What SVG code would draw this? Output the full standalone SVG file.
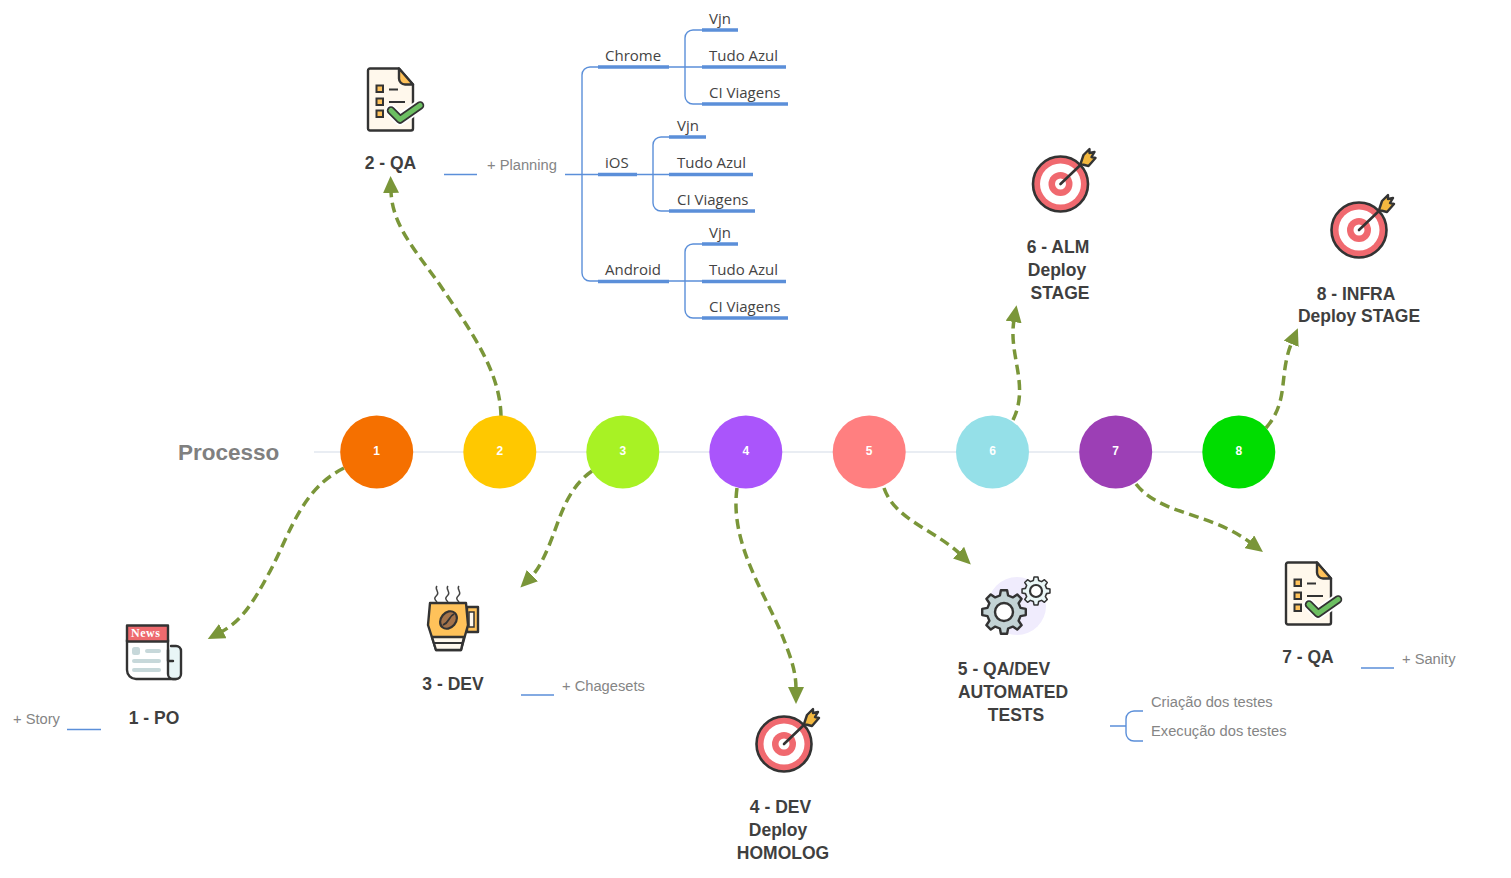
<svg xmlns="http://www.w3.org/2000/svg" width="1511" height="878" viewBox="0 0 1511 878">
<style>
text{font-family:"Liberation Sans",Arial,sans-serif}
.lbl{font-size:17.5px;font-weight:700;fill:#3f3f3f;text-anchor:middle}
.sub{font-size:14.7px;fill:#858585}
.br{font-family:"Open Sans","Liberation Sans",sans-serif;font-size:15px;fill:#444}
.num{font-size:12px;font-weight:700;fill:#fff;text-anchor:middle}
.thin{fill:none;stroke:#5b8fd9;stroke-width:1.4}
.thick{fill:none;stroke:#5b8fd9;stroke-width:3.4}
.conn{fill:none;stroke:#7a9639;stroke-width:3.5;stroke-dasharray:10 5.500;marker-end:url(#ah)}
.ol{stroke:#333;stroke-width:2.400;stroke-linejoin:round;stroke-linecap:round}
</style>
<defs>
<marker id="ah" markerUnits="userSpaceOnUse" markerWidth="18" markerHeight="16" refX="2" refY="8" orient="auto"><path d="M0 0L17 8L0 16Z" fill="#7a9639"/></marker>
<g id="doc">
<path class="ol" d="M3 0H32L46 16V60a2 2 0 0 1-2 2H3a2 2 0 0 1-2-2V2a2 2 0 0 1 2-2Z" fill="#fff8ec"/>
<path class="ol" d="M32 0L46 16H38a6 6 0 0 1-6-6Z" fill="#ffc25a"/>
<g fill="#ffc25a" stroke="#333" stroke-width="2"><rect x="9.500" y="17" width="6.500" height="6.500"/><rect x="9.500" y="30" width="6.500" height="6.500"/><rect x="9.500" y="42" width="6.500" height="6.500"/></g>
<path d="M22 21H31M22 33.500H38" stroke="#333" stroke-width="2" fill="none"/>
<path d="M24 42L33 51L53 37" fill="none" stroke="#fff" stroke-width="12" stroke-linecap="round" stroke-linejoin="round"/>
<path d="M24 42L33 51L53 37" fill="none" stroke="#333" stroke-width="8.500" stroke-linecap="round" stroke-linejoin="round"/>
<path d="M24 42L33 51L53 37" fill="none" stroke="#6cbf62" stroke-width="5" stroke-linecap="round" stroke-linejoin="round"/>
</g>
<g id="target">
<circle r="27.500" fill="#f0696f" stroke="#333" stroke-width="2.600"/>
<circle r="20.500" fill="#fff"/><circle r="12" fill="#f0696f"/><circle r="5.500" fill="#fff"/>
<path d="M0 0L22 -21" stroke="#333" stroke-width="2.600" stroke-linecap="round"/>
<path class="ol" d="M20 -20L23 -29L29 -35L29 -31L34 -32L31 -27L35 -26L28 -18Z" fill="#f3b83f" stroke-width="2"/>
</g>
<polygon id="gear" points="16.500,-4.100 21.800,-3.100 21.800,3.100 16.500,4.100 14.600,8.800 17.600,13.200 13.200,17.600 8.800,14.600 4.100,16.500 3.100,21.800 -3.100,21.800 -4.100,16.500 -8.800,14.600 -13.200,17.600 -17.600,13.200 -14.600,8.800 -16.500,4.100 -21.800,3.100 -21.800,-3.100 -16.500,-4.100 -14.600,-8.800 -17.600,-13.200 -13.200,-17.600 -8.800,-14.600 -4.100,-16.500 -3.100,-21.800 3.100,-21.800 4.100,-16.500 8.800,-14.600 13.200,-17.600 17.600,-13.200 14.600,-8.800"/>
</defs>
<rect width="1511" height="878" fill="#fff"/>
<path d="M314 452H1238" stroke="#e9edf3" stroke-width="2" fill="none"/>
<text x="178" y="460" font-size="22.500" font-weight="700" fill="#808080">Processo</text>
<g id="connectors">
<path class="conn" d="M344 468C300 490 290 535 268 575C252 605 240 622 221 632"/>
<path class="conn" d="M501 416C500 370 470 330 440 285C415 250 392 225 391 191"/>
<path class="conn" d="M592 471C565 490 560 520 548 548C542 562 537 571 531 577"/>
<path class="conn" d="M737 488C730 540 760 585 780 630C790 655 796 670 796 689"/>
<path class="conn" d="M884 488C895 520 935 530 960 554"/>
<path class="conn" d="M1013 420C1030 385 1008 355 1014 320"/>
<path class="conn" d="M1136 484C1160 515 1210 512 1251 543"/>
<path class="conn" d="M1266 428C1290 400 1278 375 1292 342"/>
<g id="tree-planning">
<path class="thin" d="M565 174.500H598M598 67H590a8 8 0 0 0-8 8V273a8 8 0 0 0 8 8H598M669 67H702M702 30H693a8 8 0 0 0-8 8V96a8 8 0 0 0 8 8H702M637 174.500H669M669 137H661a8 8 0 0 0-8 8V203a8 8 0 0 0 8 8H669M669 281H702M702 244H693a8 8 0 0 0-8 8V310a8 8 0 0 0 8 8H702"/>
<path class="thick" d="M598 67H669M702 30H738M702 67H786M702 104H788M598 174.500H637M669 137H706M669 174.500H753M669 211H755M598 281.500H669M702 244H738M702 281.500H786M702 318H788"/>
</g>
<path class="thin" d="M444 174.500H477M67 729.500H101M521 695H554M1361 668H1394M1110 726H1126M1143 711H1134a8 8 0 0 0-8 8V733a8 8 0 0 0 8 8H1143"/>
</g>
<g id="n1"><circle cx="376.700" cy="452" r="36.500" fill="#f57000"/><text class="num" x="376.700" y="455">1</text></g>
<g id="n2"><circle cx="499.800" cy="452" r="36.500" fill="#ffc800"/><text class="num" x="499.800" y="455">2</text></g>
<g id="n3"><circle cx="622.800" cy="452" r="36.500" fill="#a8f224"/><text class="num" x="622.800" y="455">3</text></g>
<g id="n4"><circle cx="745.800" cy="452" r="36.500" fill="#aa55fb"/><text class="num" x="745.800" y="455">4</text></g>
<g id="n5"><circle cx="869.200" cy="452" r="36.500" fill="#ff7f80"/><text class="num" x="869.200" y="455">5</text></g>
<g id="n6"><circle cx="992.500" cy="452" r="36.500" fill="#95e0e8"/><text class="num" x="992.500" y="455">6</text></g>
<g id="n7"><circle cx="1115.700" cy="452" r="36.500" fill="#9c3fb5"/><text class="num" x="1115.700" y="455">7</text></g>
<g id="n8"><circle cx="1238.800" cy="452" r="36.500" fill="#00dd00"/><text class="num" x="1238.800" y="455">8</text></g>
<g id="po">
<rect x="127" y="640" width="45" height="39" fill="#fff"/>
<path class="ol" d="M127 640V670a9 9 0 0 0 9 9H176" fill="none"/>
<path class="ol" d="M168 650V674a5 5 0 0 0 5 5H176a5 5 0 0 0 5-5V651a5 5 0 0 0-5-5H171" fill="#e8f5f6"/>
<path class="ol" d="M168 640V661H173" fill="none"/>
<rect class="ol" x="127" y="625.500" width="41" height="16" fill="#ee6a6e"/>
<text x="131" y="637" font-size="12" font-weight="700" fill="#fff" letter-spacing=".5" style="font-family:'Liberation Serif',serif">News</text>
<g fill="#c7d8da"><rect x="132" y="647" width="8" height="8" rx="2.500"/><rect x="145" y="649" width="16" height="4" rx="2"/><rect x="132" y="659" width="29" height="4" rx="2"/><rect x="132" y="668" width="29" height="4" rx="2"/></g>
<text class="lbl" x="154" y="724">1 - PO</text>
<text class="sub" x="13" y="724">+ Story</text>
</g>
<g id="qa2"><use href="#doc" transform="translate(367 68.500)"/>
<text class="lbl" x="390.500" y="169">2 - QA</text>
<text class="sub" x="487" y="170">+ Planning</text>
</g>
<g id="planning-labels">
<text class="br" x="605" y="61">Chrome</text><text class="br" x="709" y="24">Vjn</text><text class="br" x="709" y="61">Tudo Azul</text><text class="br" x="709" y="98">CI Viagens</text>
<text class="br" x="605" y="168">iOS</text><text class="br" x="677" y="131">Vjn</text><text class="br" x="677" y="168">Tudo Azul</text><text class="br" x="677" y="205">CI Viagens</text>
<text class="br" x="605" y="275">Android</text><text class="br" x="709" y="238">Vjn</text><text class="br" x="709" y="275">Tudo Azul</text><text class="br" x="709" y="312">CI Viagens</text>
</g>
<g id="dev3">
<path d="M437 586c-3 3 3 6 0 9s-3 4 0 7M448 586c-3 3 3 6 0 9s-3 4 0 7M459 586c-3 3 3 6 0 9s-3 4 0 7" fill="none" stroke="#444" stroke-width="1.500"/>
<path class="ol" d="M467 607H478V632H467Z" fill="#ffc25a"/>
<rect x="469" y="612" width="5" height="15" fill="#fff8ec" stroke="#333" stroke-width="1.500"/>
<path class="ol" d="M430 603H466L468 625L461 650H436L428 625Z" fill="#ffc25a"/>
<path class="ol" d="M432 637H464L461 650H436Z" fill="#fff8ec"/>
<path d="M433 643H463" stroke="#333" stroke-width="2"/>
<ellipse cx="448.500" cy="620" rx="7.500" ry="9.500" transform="rotate(40 448.500 620)" fill="#a4734a" stroke="#333" stroke-width="2.200"/>
<path d="M443 625C450 622 448 617 454 614" fill="none" stroke="#333" stroke-width="1.800"/>
<text class="lbl" x="453" y="690">3 - DEV</text>
<text class="sub" x="562" y="691">+ Chagesets</text>
</g>
<g id="dev4"><use href="#target" transform="translate(784 744)"/>
<text class="lbl" x="780.500" y="813">4 - DEV</text><text class="lbl" x="778" y="836">Deploy</text><text class="lbl" x="783" y="858.500">HOMOLOG</text>
</g>
<g id="qa5">
<circle cx="1017" cy="606" r="29" fill="#f0ecfd"/>
<g class="ol" fill="#c3d3d5"><use href="#gear" transform="translate(1004 612)"/></g>
<circle cx="1004" cy="612" r="9" fill="#fff" stroke="#333" stroke-width="2.400"/>
<g class="ol" fill="#e9f6f6"><use href="#gear" transform="translate(1036 591) scale(.64)"/></g>
<circle cx="1036" cy="591" r="6" fill="#fff" stroke="#333" stroke-width="2.200"/>
<text class="lbl" x="1004" y="675">5 - QA/DEV</text><text class="lbl" x="1013" y="698">AUTOMATED</text><text class="lbl" x="1016" y="721">TESTS</text>
<text class="sub" x="1151" y="707">Criação dos testes</text><text class="sub" x="1151" y="736">Execução dos testes</text>
</g>
<g id="alm6"><use href="#target" transform="translate(1060.500 184)"/>
<text class="lbl" x="1058" y="253">6 - ALM</text><text class="lbl" x="1057" y="276">Deploy</text><text class="lbl" x="1060" y="299">STAGE</text>
</g>
<g id="qa7"><use href="#doc" transform="translate(1285 562.500)"/>
<text class="lbl" x="1308" y="662.500">7 - QA</text>
<text class="sub" x="1402" y="664">+ Sanity</text>
</g>
<g id="infra8"><use href="#target" transform="translate(1359 230)"/>
<text class="lbl" x="1356" y="300">8 - INFRA</text><text class="lbl" x="1359" y="322">Deploy STAGE</text>
</g>
</svg>
